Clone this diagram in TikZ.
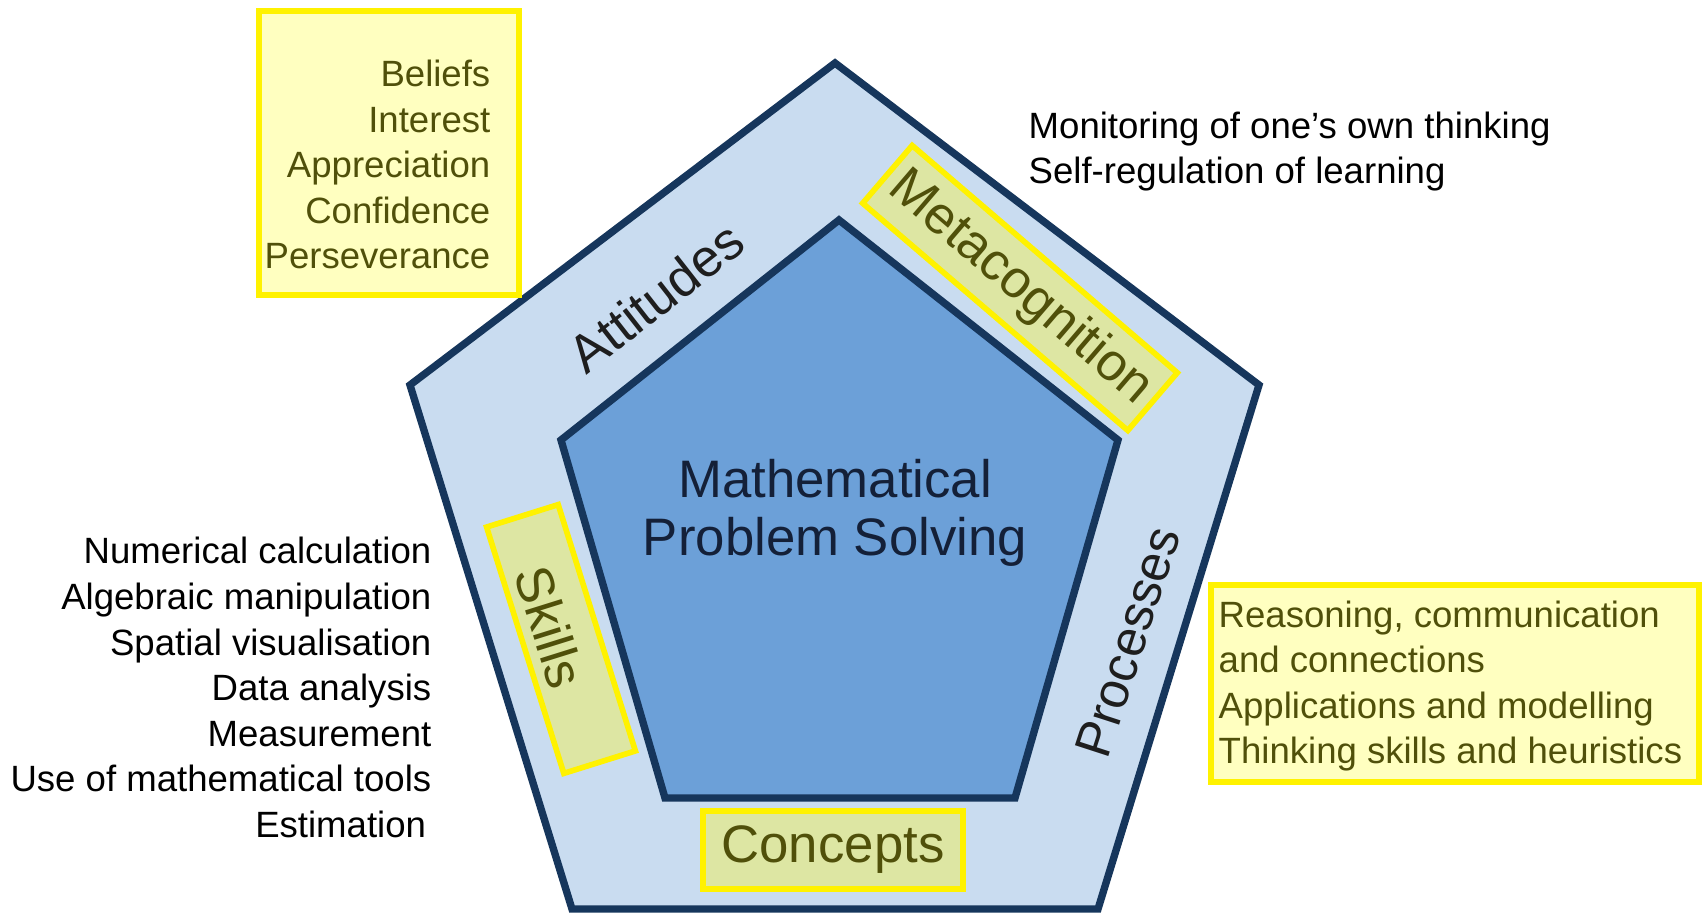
\documentclass[tikz,border=0pt]{standalone}
\usepackage{fontspec}
\setmainfont{Liberation Sans}
\usepackage{tikz}
\usetikzlibrary{calc}

\definecolor{paleblue}{RGB}{201,220,240}
\definecolor{midblue}{RGB}{108,160,216}
\definecolor{navyline}{RGB}{22,54,92}
\definecolor{paleyellow}{RGB}{255,255,192}
\definecolor{labelgreen}{RGB}{221,230,163}
\definecolor{olivetext}{RGB}{80,80,10}
\definecolor{centretext}{RGB}{20,32,56}
\definecolor{ringgrey}{RGB}{30,30,30}

\newcommand{\listfont}{\fontsize{10.4}{12.95}\selectfont}
\newcommand{\bigfont}{\fontsize{15}{16.5}\selectfont}

\begin{document}
\begin{tikzpicture}[x=0.01cm,y=-0.01cm,
  pentline/.style={draw=navyline,line width=2.1pt},
  notebox/.style={draw=yellow,line width=1.6pt,fill=paleyellow,inner sep=0pt},
  labelbox/.style={draw=yellow,line width=1.6pt,fill=labelgreen,inner sep=0pt},
  listtext/.style={inner sep=0pt,font=\listfont},
  ringtext/.style={inner sep=0pt,font=\bigfont}]
  \useasboundingbox (0,0) rectangle (1702,915);

    % the two pentagons
    \foreach \n / \x / \y in {1/835/63, 2/1259/385, 3/1098/909, 4/572/909, 5/410/385}
      \coordinate (o\n) at (\x,\y);
    \foreach \n / \x / \y in {1/839/220, 2/1118/440, 3/1015/798, 4/665/798, 5/561/440}
      \coordinate (i\n) at (\x,\y);
    \draw[pentline,fill=paleblue] (o1) -- (o2) -- (o3) -- (o4) -- (o5) -- cycle;
    \draw[pentline,fill=midblue] (i1) -- (i2) -- (i3) -- (i4) -- (i5) -- cycle;

    \node(mps) at (835,513) [ringtext,align=center,text=centretext] {Mathematical\\Problem Solving};

    % labels on the ring
    \node(attitudes) at (656,297) [ringtext,rotate=38,text=ringgrey] {Attitudes};
    \node(processes) at (1128,642) [ringtext,rotate=72,text=ringgrey,font=\fontsize{14.5}{14.5}\selectfont] {Processes};
    \node(metabox) at (1020,288) [labelbox,rotate=-40.6,minimum width=3.49cm,minimum height=0.76cm,
      font=\bigfont,text=olivetext] {Metacognition};
    \node(skillbox) at (561,639) [labelbox,rotate=-72.6,minimum width=2.58cm,minimum height=0.75cm] {};
    \node(skills) at (550,627) [ringtext,rotate=-72.6,text=olivetext] {Skills};
    \node(concepts) at (833,850) [labelbox,minimum width=2.60cm,minimum height=0.78cm,
      font=\bigfont,text=olivetext] {Concepts};

    % lists round the pentagon
    \node(attbox) at (389,153) [notebox,minimum width=2.60cm,minimum height=2.84cm] {};
    \node(attlist) at (491,164.5) [listtext,anchor=east,align=right,text=olivetext]
      {Beliefs\\Interest\\Appreciation\\Confidence\\Perseverance};
    \node(metalist) at (1028,151.5) [listtext,anchor=west,align=left]
      {Monitoring of one’s own thinking\\Self-regulation of learning};
    \node(skilllist) at (432,687.5) [listtext,anchor=east,align=right]
      {Numerical calculation\\Algebraic manipulation\\Spatial visualisation\\Data analysis\\Measurement\\Use of mathematical tools\\Estimation\kern1.5pt};
    \node(procbox) at (1455,683.5) [notebox,minimum width=4.88cm,minimum height=1.97cm] {};
    \node(proclist) at (1218,686) [listtext,anchor=west,align=left,text=olivetext]
      {Reasoning, communication\\and connections\\Applications and modelling\\Thinking skills and heuristics};
\end{tikzpicture}
\end{document}
